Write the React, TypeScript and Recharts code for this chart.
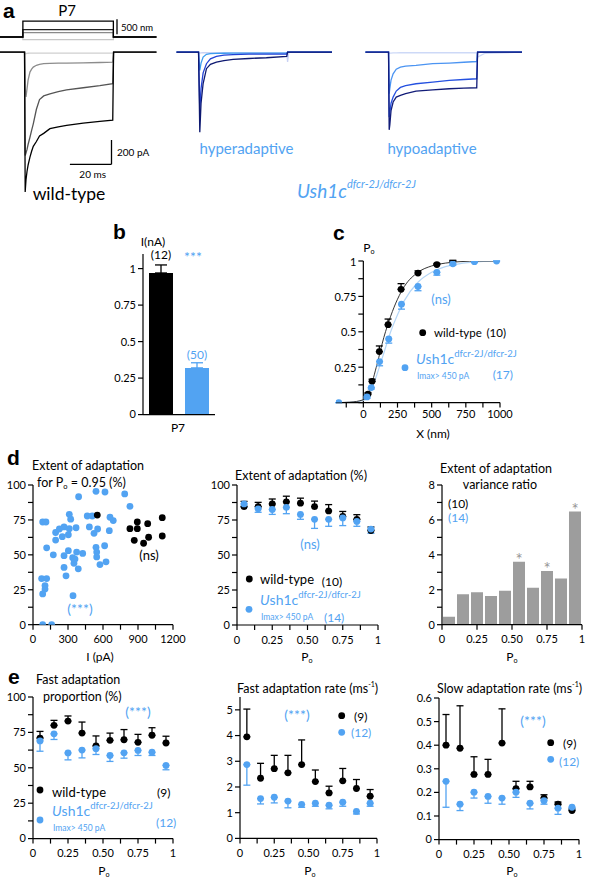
import React from 'react';
import {
  Bar,
  ComposedChart,
  ErrorBar,
  LabelList,
  Line,
  LineChart,
  ReferenceLine,
  Scatter,
  XAxis,
  YAxis,
} from 'recharts';

const FONT = 'Lato, "Noto Sans", sans-serif';
const BLUE = '#52a3f2';

// ---- a: stimulus (nm) and transduction currents (pA), time in ms
const stimTime = [0, 11, 11, 54.5, 54.5, 75.2];
const stimSteps = [530, 245, 145, -85];
const stimColors = ['#000', '#222', '#8a8a8a', '#c8c8c8'];

const wtTime = [0, 11.8, 12.1, 12.5, 13, 13.5, 14.4, 15.2, 16, 17.5, 19, 21, 24, 28, 32, 40, 48, 54.2, 54.6, 56, 75.2];
const wtBlack = [0, 0, -1150, -1050, -980, -930, -864, -815, -775, -735, -690, -668, -630, -615, -603, -584, -570, -560, 0, 0, 0];
const wtDark = [0, 0, -850, -830, -800, -760, -700, -644, -590, -470, -390, -360, -343, -325, -310, -293, -276, -260, 0, 0, 0];
const wtGray = [0, 0, -300, -368, -300, -230, -164, -140, -123, -108, -100, -95, -93, -91, -90, -88, -85, -82, 0, 0, 0];
const wtPale = [0, 0, -15, -12, -10, -9, -8, -8, -8, -8, -8, -8, -8, -8, -8, -8, -8, -8, 0, 0, 0];

const hyTime = [1.2, 11.8, 12.1, 12.4, 13, 14, 15.6, 17.5, 20.4, 24, 28.4, 36, 44.4, 54.2, 54.6, 55.2, 76];
const hyNavy = [0, 0, -330, -658, -420, -258, -136, -100, -82, -70, -60, -52, -46, -35, 0, 0, 0];
const hyBlue = [0, 0, -240, -480, -300, -170, -95, -55, -35, -25, -20, -17, -16, -15, 0, 0, 0];
const hyLight = [0, 0, -80, -150, -90, -40, -18, -12, -10, -9, -8, -8, -8, -8, 0, 0, 0];
const hyPale = [0, 0, -5, -8, -6, -5, -5, -5, -5, -5, -5, -5, -5, -5, -80, 0, 0];

const hoTime = [0.7, 11.8, 12.1, 12.4, 13, 14, 15.5, 17.5, 20, 25, 33, 41, 48, 54.2, 54.6, 58, 76];
const hoNavy = [0, 0, -639, -600, -480, -410, -370, -355, -342, -321, -310, -301, -296, -293, 0, 0, 0];
const hoBlue = [0, 0, -535, -500, -420, -370, -320, -290, -275, -260, -247, -233, -225, -219, 0, 0, 0];
const hoLight = [0, 0, -342, -300, -230, -178, -140, -123, -115, -109, -95, -90, -83, -77, 0, 0, 0];
const hoPale = [0, 0, -10, -8, -8, -6, -6, -5, -5, -5, -5, -5, -5, -5, -40, -10, 0];

// ---- b: peak current
const bGroups = ['wild-type', 'Ush1c'];
const bMeans = [0.97, 0.32];
const bSem = [0.055, 0.035];
const bTicks = [0, 0.25, 0.5, 0.75, 1];

// ---- c: activation curves
const cWtX = [34, 64, 117, 181, 276, 400, 538, 655];
const cWtP = [0.06, 0.15, 0.36, 0.55, 0.8, 0.915, 0.975, 1.0];
const cWtErr = [0.01, 0.015, 0.04, 0.04, 0.04, 0.015, 0.008, 0.005];
const cUshX = [-180, 27, 58, 119, 186, 279, 400, 538, 655, 813, 975];
const cUshP = [0, 0.04, 0.106, 0.29, 0.45, 0.695, 0.82, 0.92, 0.98, 0.995, 1.0];
const cUshErr = [0, 0.01, 0.01, 0.03, 0.03, 0.035, 0.03, 0.02, 0.01, 0.005, 0];
const cFitX = [-200, -100, 0, 50, 100, 150, 200, 250, 300, 400, 500, 600, 700, 850, 1000];
const cFitWt = [0, 0.003, 0.02, 0.1, 0.27, 0.46, 0.61, 0.73, 0.82, 0.92, 0.965, 0.985, 0.995, 1, 1];
const cFitUsh = [0, 0.002, 0.015, 0.07, 0.2, 0.35, 0.5, 0.62, 0.72, 0.85, 0.92, 0.96, 0.98, 0.995, 1];
const cXTicks = [-125, 0, 125, 250, 375, 500, 625, 750, 875, 1000];
const cXLabels = [0, 250, 500, 750, 1000];
const cYTicks = [0, 0.125, 0.25, 0.375, 0.5, 0.625, 0.75, 0.875, 1];
const cYLabels = [0.25, 0.5, 0.75, 1];

// ---- d left: extent of adaptation vs current
const dlUshI = [83, 111, 117, 74, 117, 103, 103, 83, 83, 160, 174, 194, 194, 226, 251, 266, 266, 266, 283, 303, 303, 311, 311, 323, 340, 351, 360, 369, 374, 388, 391, 343, 426, 465, 508, 483, 523, 540, 540, 546, 546, 554, 574, 617, 626, 614, 654, 660, 688, 786, 831];
const dlUshE = [73.5, 73.5, 55, 33, 33, 28, 25.5, 22, 0, 0, 50, 66, 60.6, 68.5, 63, 70, 49.4, 41, 35, 53, 64.4, 68.7, 79, 75.5, 48, 44, 47, 69.4, 52, 40, 91.6, 20.8, 51, 77.8, 77.8, 70, 65.4, 95.5, 55.4, 52, 48.5, 68.5, 43, 95, 45, 56.5, 67.3, 76.9, 74.5, 93.6, 84.7];
const dlWtI = [551, 831, 894, 894, 868, 948, 983, 991, 1108, 1108];
const dlWtE = [78.5, 68.7, 73.5, 68.7, 60.4, 58.3, 72.3, 62.6, 76.6, 63.5];
const dlXTicks = [0, 150, 300, 450, 600, 750, 900, 1050, 1200];
const dlXLabels = [0, 300, 600, 900, 1200];

// ---- Po bins shared by d middle / d right / e
const poBins = [0.05, 0.15, 0.25, 0.35, 0.45, 0.55, 0.65, 0.75, 0.85, 0.95];
const poTicks = [0, 0.125, 0.25, 0.375, 0.5, 0.625, 0.75, 0.875, 1];
const poLabels: Record<number, string> = { 0: '0', 0.25: '0.25', 0.5: '0.50', 0.75: '0.75', 1: '1' };
const pctTicks = [0, 12.5, 25, 37.5, 50, 62.5, 75, 87.5, 100];
const pctLabels = [0, 25, 50, 75, 100];

const dmWt = [84.5, 84.5, 86.5, 88, 87, 84.5, 81.5, 77.5, 75.5, 67.5];
const dmWtErr = [3.8, 3.1, 3.5, 4, 3.6, 4, 4.5, 3.6, 3.3, 2.5];
const dmUsh = [86.5, 83, 82.5, 84, 79, 75.5, 75.5, 76.5, 74, 68.5];
const dmUshErr = [2.5, 2.5, 3.5, 4.5, 3.5, 6.5, 5, 5.5, 3.5, 3];

const varRatio = [0.45, 1.74, 1.86, 1.65, 1.95, 3.6, 2.12, 3.08, 2.64, 6.48];
const varSig = [false, false, false, false, false, true, false, true, false, true];
const varTicks = [0, 1, 2, 3, 4, 5, 6, 7, 8];
const varLabels = [0, 2, 4, 6, 8];
const varXTicks = [0, 0.25, 0.5, 0.75, 1];

const elWt = [71, 80, 83, 74.5, 65.5, 69.4, 69.8, 68, 73, 67.5];
const elWtErr = [4.7, 3.5, 3.6, 7.8, 7, 5.1, 7.2, 5.6, 5.3, 4.8];
const elUsh = [69, 74, 60.5, 62.5, 63.5, 58.7, 60.6, 62.3, 61, 51.7];
const elUshErr = [7.3, 4, 4.9, 5.5, 4.1, 4.2, 3.8, 3.6, 2.3, 3.1];

const emWt = [3.95, 2.34, 2.71, 2.55, 2.87, 2.21, 1.77, 2.24, 1.94, 1.64];
const emWtErr = [1.08, 0.58, 0.52, 0.68, 0.96, 0.45, 0.26, 0.48, 0.35, 0.26];
const emUsh = [2.87, 1.55, 1.6, 1.45, 1.32, 1.37, 1.29, 1.41, 1.05, 1.37];
const emUshErr = [0.8, 0.21, 0.22, 0.26, 0.11, 0.12, 0.14, 0.16, 0.1, 0.12];
const emTicks = [0, 1, 2, 3, 4, 5];

const erWt = [0.4, 0.387, 0.276, 0.276, 0.409, 0.216, 0.223, 0.176, 0.15, 0.123];
const erWtErr = [0.13, 0.18, 0.075, 0.064, 0.145, 0.031, 0.024, 0.014, 0.009, 0.007];
const erUsh = [0.247, 0.15, 0.201, 0.183, 0.176, 0.201, 0.154, 0.165, 0.133, 0.137];
const erUshErr = [0.11, 0.027, 0.025, 0.029, 0.026, 0.022, 0.024, 0.015, 0.026, 0.011];
const erTicks = [0, 0.1, 0.2, 0.3, 0.4, 0.5, 0.6];

// ---- layout helpers
type Box = { l: number; t: number; r: number; b: number };
const dims = (b: Box, padL: number, padB: number, padT = 6, padR = 14) => ({
  width: b.r - b.l + padL + padR,
  height: b.b - b.t + padT + padB,
  margin: { top: padT, right: padR, bottom: 0, left: 0 },
});
const place = (b: Box, padL: number, padT = 6): React.CSSProperties => ({
  position: 'absolute',
  left: b.l - padL,
  top: b.t - padT,
});

const STIM_BOX = { l: 0, t: 18.7, r: 158.1, b: 45.7 };
const WT_BOX = { l: 0, t: 39.5, r: 158.1, b: 197.5 };
const HY_BOX = { l: 174.2, t: 39.5, r: 332.3, b: 197.5 };
const HO_BOX = { l: 364.3, t: 39.5, r: 522.4, b: 197.5 };
const B_BOX = { l: 143, t: 253.7, r: 215, b: 414.3 };
const C_BOX = { l: 336, t: 260.7, r: 500, b: 402.3 };
const DL_BOX = { l: 33, t: 485, r: 173, b: 624.7 };
const DM_BOX = { l: 237, t: 485, r: 378, b: 625 };
const DR_BOX = { l: 441.7, t: 485, r: 581.7, b: 624.7 };
const EL_BOX = { l: 33, t: 696.7, r: 173, b: 838.3 };
const EM_BOX = { l: 240, t: 697.3, r: 377, b: 838.7 };
const ER_BOX = { l: 439, t: 697.7, r: 579, b: 839.3 };

const tickStyle = { fill: '#000', fontSize: 11, fontFamily: FONT };
const ax = {
  stroke: '#000',
  strokeWidth: 1.2,
  tick: tickStyle,
  tickSize: 5,
  interval: 0 as const,
  allowDataOverflow: true,
};
const only = (labels: number[]) => (v: number) => (labels.includes(v) ? String(v) : '');
const fmtPo = (v: number) => poLabels[v] ?? '';

const dot = (fill: string) => (p: any) => <circle cx={p.cx} cy={p.cy} r={3.4} fill={fill} />;

function Traces({ box, time, series, colors }: { box: Box; time: number[]; series: number[][]; colors: string[] }) {
  const rows = time.map((t, i) => {
    const row: Record<string, number> = { t };
    series.forEach((s, k) => (row['s' + k] = s[i]));
    return row;
  });
  return (
    <div style={place(box, 0, 0)}>
      <LineChart {...dims(box, 0, 0, 0, 0)} data={rows}>
        <XAxis type="number" dataKey="t" domain={[0, 76]} hide height={0} allowDataOverflow />
        <YAxis type="number" domain={[-1200, 100]} hide width={0} allowDataOverflow />
        {series.map((_, k) => (
          <Line key={k} dataKey={'s' + k} type="linear" dot={false} stroke={colors[k]} strokeWidth={1.3} isAnimationActive={false} />
        ))}
      </LineChart>
    </div>
  );
}

function PoPlot({ box, yDomain, yTicks, yLabels, wt, wtErr, ush, ushErr }: any) {
  const wtRows = poBins.map((x, i) => ({ x, y: wt[i], err: [0, wtErr[i]] }));
  const ushRows = poBins.map((x, i) => ({ x, y: ush[i], err: [ushErr[i], 0] }));
  return (
    <div style={place(box, 40)}>
      <ComposedChart {...dims(box, 40, 24)}>
        <XAxis type="number" dataKey="x" domain={[0, 1]} ticks={poTicks} tickFormatter={fmtPo} height={24} tickMargin={6} {...ax} />
        <YAxis type="number" dataKey="y" domain={yDomain} ticks={yTicks} tickFormatter={only(yLabels)} width={40} tickMargin={2} {...ax} />
        <Scatter data={wtRows} dataKey="y" shape={dot('#000')} isAnimationActive={false}>
          <ErrorBar dataKey="err" direction="y" width={3.5} stroke="#000" strokeWidth={1.3} />
        </Scatter>
        <Scatter data={ushRows} dataKey="y" shape={dot(BLUE)} isAnimationActive={false}>
          <ErrorBar dataKey="err" direction="y" width={3.5} stroke={BLUE} strokeWidth={1.3} />
        </Scatter>
      </ComposedChart>
    </div>
  );
}

const T = ({ x, y, s = 12, a = 'start', c = '#000', children }: any) => (
  <text x={x} y={y} fontSize={s} textAnchor={a} fill={c} dominantBaseline="central">
    {children}
  </text>
);
const Letter = ({ x, y, children }: any) => (
  <text x={x} y={y} fontSize={21} fontWeight="bold" fontFamily='"Liberation Sans", Arial, sans-serif'>
    {children}
  </text>
);
const Po = ({ x, y, s = 12 }: any) => (
  <text x={x} y={y} fontSize={s} textAnchor="middle" dominantBaseline="central">
    P<tspan fontSize={s * 0.6} dy={s * 0.35}>o</tspan>
  </text>
);
const Ush = ({ x, y, s = 14, sup = 9.5, allItalic = false }: any) => (
  <text x={x} y={y} fontSize={s} fill={BLUE} dominantBaseline="central">
    <tspan fontStyle="italic">U</tspan>
    <tspan fontStyle={allItalic ? 'italic' : 'normal'}>sh1c</tspan>
    <tspan fontSize={sup} dy={-s * 0.38} fontStyle={allItalic ? 'italic' : 'normal'}>
      dfcr-2J/dfcr-2J
    </tspan>
  </text>
);
const Rate = ({ x, y, label }: any) => (
  <text x={x} y={y} fontSize={12.5} dominantBaseline="central">
    {label} (ms<tspan fontSize={7} dy={-4}>-1</tspan>
    <tspan dy={4}>)</tspan>
  </text>
);

export default function App() {
  const stimRows = stimTime.map((t, i) => {
    const row: Record<string, number> = { t };
    stimSteps.forEach((s, k) => (row['s' + k] = i >= 2 && i <= 3 ? s : 0));
    return row;
  });

  const bRows = bGroups.map((g, i) => ({
    g,
    wt: i === 0 ? bMeans[i] : undefined,
    ush: i === 1 ? bMeans[i] : undefined,
    wtErr: i === 0 ? [0, bSem[i]] : undefined,
    ushErr: i === 1 ? [0, bSem[i]] : undefined,
  }));

  const cWtRows = cWtX.map((x, i) => ({ x, y: cWtP[i], err: [0, cWtErr[i]] }));
  const cUshRows = cUshX.map((x, i) => ({ x, y: cUshP[i], err: [cUshErr[i], 0] }));
  const cFitWtRows = cFitX.map((x, i) => ({ x, y: cFitWt[i] }));
  const cFitUshRows = cFitX.map((x, i) => ({ x, y: cFitUsh[i] }));
  const cXDomain = [-200, 1000];
  const cShift = ((0 - cXDomain[0]) / (cXDomain[1] - cXDomain[0])) * (C_BOX.r - C_BOX.l);
  const CYTick = (p: any) => {
    const v = p.payload.value;
    const x0 = p.x + cShift;
    return (
      <g>
        <line x1={x0 - 5} x2={x0} y1={p.y} y2={p.y} stroke="#000" strokeWidth={1.2} />
        {cYLabels.includes(v) && (
          <text x={x0 - 7} y={p.y} textAnchor="end" dominantBaseline="central" fontSize={11} fontFamily={FONT} fill="#000">
            {String(v)}
          </text>
        )}
      </g>
    );
  };

  const dlWtRows = dlWtI.map((x, i) => ({ x, y: dlWtE[i] }));
  const dlUshRows = dlUshI.map((x, i) => ({ x, y: dlUshE[i] }));
  const drRows = poBins.map((x, i) => ({ x, v: varRatio[i], mark: varSig[i] ? '*' : '' }));

  return (
    <div style={{ position: 'absolute', left: 0, top: 0, width: 609, height: 879, background: '#fff', overflow: 'hidden', fontFamily: FONT }}>
      {/* a: stimulus */}
      <div style={place(STIM_BOX, 0, 0)}>
        <LineChart {...dims(STIM_BOX, 0, 0, 0, 0)} data={stimRows}>
          <XAxis type="number" dataKey="t" domain={[0, 76]} hide height={0} allowDataOverflow />
          <YAxis type="number" domain={[-300, 600]} hide width={0} allowDataOverflow />
          {stimSteps
            .map((_, k) => (
              <Line key={k} dataKey={'s' + k} type="linear" dot={false} stroke={stimColors[k]} strokeWidth={1.3} isAnimationActive={false} />
            ))
            .reverse()}
        </LineChart>
      </div>
      <Traces box={WT_BOX} time={wtTime} series={[wtPale, wtGray, wtDark, wtBlack]} colors={['#cfcfcf', '#8c8c8c', '#555', '#000']} />
      <Traces box={HY_BOX} time={hyTime} series={[hyPale, hyLight, hyBlue, hyNavy]} colors={['#c9d2f4', '#3d9cf0', '#2242d6', '#0d1870']} />
      <Traces box={HO_BOX} time={hoTime} series={[hoPale, hoLight, hoBlue, hoNavy]} colors={['#cdd9f7', '#4b94f2', '#2450e0', '#121c78']} />

      {/* b */}
      <div style={place(B_BOX, 40)}>
        <ComposedChart {...dims(B_BOX, 40, 26)} data={bRows}>
          <XAxis dataKey="g" type="category" tick={false} tickLine={false} height={26} stroke="#000" strokeWidth={1.2} />
          <YAxis type="number" domain={[0, 1.1]} ticks={bTicks} width={40} tickMargin={2} {...ax} />
          <Bar dataKey="wt" stackId="s" fill="#000" barSize={24} isAnimationActive={false}>
            <ErrorBar dataKey="wtErr" direction="y" width={6} stroke="#000" strokeWidth={1.3} />
          </Bar>
          <Bar dataKey="ush" stackId="s" fill={BLUE} barSize={24} isAnimationActive={false}>
            <ErrorBar dataKey="ushErr" direction="y" width={6} stroke={BLUE} strokeWidth={1.3} />
          </Bar>
        </ComposedChart>
      </div>

      {/* c */}
      <div style={place(C_BOX, 30)}>
        <ComposedChart {...dims(C_BOX, 30, 24, 6, 20)}>
          <XAxis type="number" dataKey="x" domain={cXDomain} ticks={cXTicks} tickFormatter={only(cXLabels)} height={24} tickMargin={3} {...ax} />
          <YAxis type="number" dataKey="y" domain={[0, 1]} ticks={cYTicks} width={30} axisLine={false} tickLine={false} tickSize={0} tickMargin={0} interval={0} tick={CYTick} allowDataOverflow />
          <ReferenceLine x={0} stroke="#000" strokeWidth={1.2} />
          <Line data={cFitUshRows} dataKey="y" type="monotone" dot={false} stroke="#b5d6f6" strokeWidth={1.2} isAnimationActive={false} />
          <Line data={cFitWtRows} dataKey="y" type="monotone" dot={false} stroke="#333" strokeWidth={1} isAnimationActive={false} />
          <Scatter data={cWtRows} dataKey="y" shape={dot('#000')} isAnimationActive={false}>
            <ErrorBar dataKey="err" direction="y" width={3.5} stroke="#000" strokeWidth={1.3} />
          </Scatter>
          <Scatter data={cUshRows} dataKey="y" shape={dot(BLUE)} isAnimationActive={false}>
            <ErrorBar dataKey="err" direction="y" width={3.5} stroke={BLUE} strokeWidth={1.3} />
          </Scatter>
        </ComposedChart>
      </div>

      {/* d left */}
      <div style={place(DL_BOX, 40)}>
        <ComposedChart {...dims(DL_BOX, 40, 24)}>
          <XAxis type="number" dataKey="x" domain={[0, 1200]} ticks={dlXTicks} tickFormatter={only(dlXLabels)} height={24} tickMargin={6} {...ax} />
          <YAxis type="number" dataKey="y" domain={[0, 100]} ticks={pctTicks} tickFormatter={only(pctLabels)} width={40} tickMargin={2} {...ax} />
          <Scatter data={dlUshRows} dataKey="y" shape={dot(BLUE)} isAnimationActive={false} />
          <Scatter data={dlWtRows} dataKey="y" shape={dot('#000')} isAnimationActive={false} />
        </ComposedChart>
      </div>

      <PoPlot box={DM_BOX} yDomain={[0, 100]} yTicks={pctTicks} yLabels={pctLabels} wt={dmWt} wtErr={dmWtErr} ush={dmUsh} ushErr={dmUshErr} />

      {/* d right */}
      <div style={place(DR_BOX, 40)}>
        <ComposedChart {...dims(DR_BOX, 40, 24)} data={drRows}>
          <XAxis type="number" dataKey="x" domain={[0, 1]} ticks={varXTicks} tickFormatter={fmtPo} height={24} tickMargin={6} {...ax} />
          <YAxis type="number" domain={[0, 8]} ticks={varTicks} tickFormatter={only(varLabels)} width={40} tickMargin={2} {...ax} />
          <Bar dataKey="v" fill="#9d9d9d" barSize={12} isAnimationActive={false}>
            <LabelList dataKey="mark" position="top" offset={-4} fill="#9a9a9a" fontSize={17} />
          </Bar>
        </ComposedChart>
      </div>

      <PoPlot box={EL_BOX} yDomain={[0, 100]} yTicks={pctTicks} yLabels={pctLabels} wt={elWt} wtErr={elWtErr} ush={elUsh} ushErr={elUshErr} />
      <PoPlot box={EM_BOX} yDomain={[0, 5.5]} yTicks={emTicks} yLabels={emTicks} wt={emWt} wtErr={emWtErr} ush={emUsh} ushErr={emUshErr} />
      <PoPlot box={ER_BOX} yDomain={[0, 0.6]} yTicks={erTicks} yLabels={erTicks} wt={erWt} wtErr={erWtErr} ush={erUsh} ushErr={erUshErr} />

      {/* annotations */}
      <svg width={609} height={879} style={{ position: 'absolute', left: 0, top: 0, pointerEvents: 'none' }} fontFamily={FONT}>
        {/* a */}
        <Letter x={3} y={18}>a</Letter>
        <T x={67} y={10} s={15} a="middle">P7</T>
        <line x1={117} x2={117} y1={19.3} y2={34.3} stroke="#000" strokeWidth={1.3} />
        <T x={121} y={27} s={9.5}>500 nm</T>
        <line x1={111.5} x2={111.5} y1={140} y2={164.3} stroke="#000" strokeWidth={1.3} />
        <line x1={69.9} x2={111.5} y1={164.3} y2={164.3} stroke="#000" strokeWidth={1.3} />
        <T x={117} y={152} s={10}>200 pA</T>
        <T x={92.7} y={174} s={10} a="middle">20 ms</T>
        <T x={69} y={193} s={17.5} a="middle">wild-type</T>
        <T x={246.5} y={148} s={15} a="middle" c={BLUE}>hyperadaptive</T>
        <T x={432} y={148} s={15} a="middle" c={BLUE}>hypoadaptive</T>
        <Ush x={297} y={190} s={19} sup={11} allItalic />

        {/* b */}
        <Letter x={113} y={239}>b</Letter>
        <T x={153} y={241} a="middle">I(nA)</T>
        <T x={161} y={254} a="middle">(12)</T>
        <T x={193} y={256} s={14} a="middle" c={BLUE}>***</T>
        <T x={197} y={354} a="middle" c={BLUE}>(50)</T>
        <T x={178} y={427} a="middle">P7</T>

        {/* c */}
        <Letter x={333} y={240}>c</Letter>
        <Po x={369} y={247} s={12} />
        <T x={441} y={299} s={13} a="middle" c={BLUE}>(ns)</T>
        <circle cx={422.7} cy={332.7} r={3.4} fill="#000" />
        <T x={434} y={332} s={11.5}>wild-type</T>
        <T x={506} y={332} s={11.5} a="end">(10)</T>
        <circle cx={405} cy={367.7} r={3.4} fill={BLUE} />
        <Ush x={416} y={358} s={14} sup={9.5} />
        <T x={417} y={375.5} s={8.5} c={BLUE}>Imax&gt; 450 pA</T>
        <T x={513} y={374} s={12} a="end" c={BLUE}>(17)</T>
        <T x={433} y={433} a="middle">X (nm)</T>

        {/* d left */}
        <Letter x={7} y={465}>d</Letter>
        <T x={32} y={465} s={12.5}>Extent of adaptation</T>
        <text x={37} y={482} fontSize={12.5} dominantBaseline="central">
          for P<tspan fontSize={7.5} dy={4}>o</tspan>
          <tspan dy={-4}> = 0.95 (%)</tspan>
        </text>
        <T x={149} y={555} s={13} a="middle">(ns)</T>
        <T x={80} y={608} s={14} a="middle" c={BLUE}>(***)</T>
        <T x={100} y={656} a="middle">I (pA)</T>

        {/* d middle */}
        <T x={301} y={475} s={12.5} a="middle">Extent of adaptation (%)</T>
        <T x={310} y={544} s={13} a="middle" c={BLUE}>(ns)</T>
        <circle cx={249.3} cy={579} r={3.4} fill="#000" />
        <T x={260} y={579} s={13}>wild-type</T>
        <T x={332} y={581} a="middle">(10)</T>
        <circle cx={249} cy={609.3} r={3.4} fill={BLUE} />
        <Ush x={260} y={599} s={14} sup={9.5} />
        <T x={261} y={617} s={8.5} c={BLUE}>Imax&gt; 450 pA</T>
        <T x={324} y={617} s={12} c={BLUE}>(14)</T>
        <Po x={307} y={656} />

        {/* d right */}
        <T x={496} y={468} s={12.5} a="middle">Extent of adaptation</T>
        <T x={500} y={484} s={12.5} a="middle">variance ratio</T>
        <T x={448} y={503}>(10)</T>
        <T x={448} y={517} c={BLUE}>(14)</T>
        <Po x={512} y={656} />

        {/* e left */}
        <Letter x={8} y={684}>e</Letter>
        <T x={36} y={679} s={12.5}>Fast adaptation</T>
        <T x={43} y={696} s={12.5}>proportion (%)</T>
        <T x={138} y={711} s={14} a="middle" c={BLUE}>(***)</T>
        <circle cx={40} cy={790} r={3.4} fill="#000" />
        <T x={52} y={792} s={13}>wild-type</T>
        <T x={157} y={792}>(9)</T>
        <circle cx={40} cy={820} r={3.4} fill={BLUE} />
        <Ush x={52} y={810} s={14} sup={9.5} />
        <T x={53} y={828} s={8.5} c={BLUE}>Imax&gt; 450 pA</T>
        <T x={156} y={822} c={BLUE}>(12)</T>
        <Po x={104} y={870} />

        {/* e middle */}
        <Rate x={237} y={688} label="Fast adaptation rate" />
        <T x={297} y={714} s={14} a="middle" c={BLUE}>(***)</T>
        <circle cx={341.7} cy={715.7} r={3.4} fill="#000" />
        <T x={354} y={716}>(9)</T>
        <circle cx={341.7} cy={732.3} r={3.4} fill={BLUE} />
        <T x={351} y={732} c={BLUE}>(12)</T>
        <Po x={310} y={870} />

        {/* e right */}
        <Rate x={437} y={688} label="Slow adaptation rate" />
        <T x={533} y={720} s={14} a="middle" c={BLUE}>(***)</T>
        <circle cx={550.7} cy={742.7} r={3.4} fill="#000" />
        <T x={563} y={743}>(9)</T>
        <circle cx={550.7} cy={759.3} r={3.4} fill={BLUE} />
        <T x={559} y={761} c={BLUE}>(12)</T>
        <Po x={512} y={870} />
      </svg>
    </div>
  );
}
